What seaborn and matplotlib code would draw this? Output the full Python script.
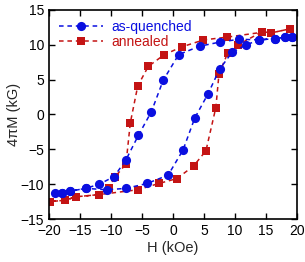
import matplotlib
matplotlib.use("Agg")
import matplotlib.pyplot as plt
import seaborn as sns
import pandas as pd

# as-quenched: descending branch then ascending branch
aq_H = [19.2, 18.1, 16.5, 13.9, 10.7, 7.6, 4.3, 0.9, -1.6, -3.5, -5.6, -7.6, -9.5, -11.9, -14.1, -16.6, -17.9, -19.0,
        -17.9, -16.6, -14.1, -10.7, -7.6, -4.2, -0.8, 1.6, 3.5, 5.6, 7.5, 9.5, 11.8, 13.9, 16.5, 18.1, 19.2]
aq_M = [11.1, 11.1, 10.9, 10.7, 10.8, 10.4, 9.8, 8.6, 4.9, 0.4, -3.0, -6.5, -8.9, -10.0, -10.6, -11.0, -11.2, -11.2,
        -11.2, -11.0, -10.6, -10.8, -10.6, -9.9, -8.7, -5.1, -0.5, 2.9, 6.5, 8.9, 10.0, 10.7, 10.9, 11.1, 11.1]

# annealed: descending branch then ascending branch
an_H = [18.9, 15.8, 14.4, 8.7, 4.9, 1.4, -1.4, -4.0, -5.7, -6.9, -7.6, -9.4, -10.4, -12.0, -15.6, -17.4, -19.8,
        -17.4, -15.6, -12.0, -5.7, -2.3, 0.6, 3.3, 5.3, 6.9, 7.4, 8.8, 10.5, 14.4, 15.8, 18.9]
an_M = [12.3, 11.7, 11.8, 11.1, 10.7, 9.7, 8.6, 6.9, 4.1, -1.2, -7.1, -9.0, -10.5, -11.5, -11.8, -12.3, -12.5,
        -12.3, -11.8, -11.5, -10.8, -9.9, -9.2, -7.4, -5.2, 1.0, 5.8, 8.8, 10.0, 11.9, 11.7, 12.3]

labels = ["as-quenched", "annealed"]
colors = ["#0a0fe0", "#c41414"]

sns.set_style("ticks")
plt.rcParams['font.family'] = ['Liberation Sans', 'DejaVu Sans']

fig = plt.figure(figsize=(3.05, 2.62), dpi=100)
ax = fig.add_axes([0.161, 0.164, 0.813, 0.798])

df_an = pd.DataFrame({"H": an_H, "M": an_M})
df_aq = pd.DataFrame({"H": aq_H, "M": aq_M})

sns.lineplot(data=df_an, x="H", y="M", sort=False, estimator=None, ax=ax,
             color=colors[1], marker="s", markersize=6.3, markeredgewidth=0,
             linestyle=(0, (3, 2.5)), linewidth=1.1, label=labels[1])
sns.lineplot(data=df_aq, x="H", y="M", sort=False, estimator=None, ax=ax,
             color=colors[0], marker="o", markersize=6.6, markeredgewidth=0,
             linestyle=(0, (3, 2.5)), linewidth=1.1, label=labels[0])

ax.set_xlim(-20, 20)
ax.set_ylim(-15, 15)
ax.set_xticks(range(-20, 21, 5))
ax.set_yticks(range(-15, 16, 5))
ax.tick_params(direction="in", top=True, right=True, length=4, width=1, labelsize=10, colors="black")
for s in ax.spines.values():
    s.set_linewidth(1.2)
    s.set_color("black")
ax.set_xlabel("H (kOe)", fontsize=10.5, labelpad=2)
ax.set_ylabel("4πM (kG)", fontsize=10.5, labelpad=0)

h, l = ax.get_legend_handles_labels()
order = [l.index(labels[0]), l.index(labels[1])]
leg = ax.legend([h[i] for i in order], [l[i] for i in order], loc="upper left", frameon=False,
                fontsize=10, handlelength=3.2, handletextpad=0.6, borderaxespad=0.3, labelspacing=0.1)
for txt, c in zip(leg.get_texts(), colors):
    txt.set_color(c)

fig.savefig("out.png", dpi=100)
